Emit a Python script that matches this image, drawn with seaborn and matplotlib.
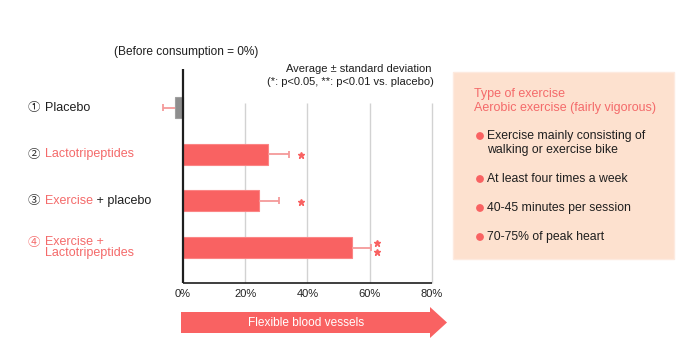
import numpy as np
import pandas as pd
import seaborn as sns
import matplotlib
matplotlib.use("Agg")
import matplotlib.pyplot as plt
from matplotlib import transforms
from matplotlib.patches import Polygon, Rectangle, Circle

# ---- data -------------------------------------------------------------
groups = ["Placebo", "Lactotripeptides", "Exercise + placebo",
          "Exercise + Lactotripeptides"]
change_pct = [-2.6, 27.3, 24.4, 54.3]      # change vs. before consumption (%)
sd_pct = [3.9, 6.7, 6.4, 6.1]              # standard deviation (%)
significance = ["", "*", "*", "**"]
x_ticks = [0, 20, 40, 60, 80]
x_tick_labels = ["0%", "20%", "40%", "60%", "80%"]
box_title = ["Type of exercise", "Aerobic exercise (fairly vigorous)"]
box_items = [["Exercise mainly consisting of", "walking or exercise bike"],
             ["At least four times a week"],
             ["40-45 minutes per session"],
             ["70-75% of peak heart"]]

# ---- style ------------------------------------------------------------
CORAL = "#f96262"
CORAL_TXT = "#f46a6a"
ERR = "#f59a9a"
GRAY = "#8e8e8e"
PEACH = "#fde1cf"
DARK = "#1e1e1e"

sns.set_theme(style="white")
plt.rcParams["font.family"] = ["Liberation Sans", "Noto Sans CJK JP", "DejaVu Sans"]

W, H = 700, 348
fig = plt.figure(figsize=(W / 100, H / 100), dpi=100)


def fx(x):
    return x / W


def fy(y):
    return 1 - y / H


Y_TOP, Y_BOT = -0.825, 3.76

# plot area: x from pixel 150 to 432, y from pixel 69 to 283
ax = fig.add_axes([fx(150), fy(283), fx(432 - 150), (283 - 69) / H])
ax.patch.set_alpha(0)
for s in ax.spines.values():
    s.set_visible(False)

df = pd.DataFrame({"group": groups, "change": change_pct})
palette = {g: (GRAY if v < 0 else CORAL) for g, v in zip(groups, change_pct)}
sns.barplot(data=df, x="change", y="group", hue="group", palette=palette,
            order=groups, orient="h", width=0.45, errorbar=None,
            legend=False, saturation=1, ax=ax, zorder=2)
for bar, v in zip(ax.patches, change_pct):
    bar.set_edgecolor("#a0a0a0" if v < 0 else "#fb8585")
    bar.set_linewidth(0.8)

ax.set_xlim(-10.6, 80)
ax.set_ylim(Y_BOT, Y_TOP)

# gridlines
ax.vlines(x_ticks[1:], -0.1, Y_BOT, color="#d2d2d2", lw=1, zorder=0,
          clip_on=False)

# one-sided error bars, pointing away from zero
pos = np.arange(len(groups))
vals = np.array(change_pct)
ends = vals + np.sign(vals) * np.array(sd_pct)
ax.hlines(pos, vals, ends, color=ERR, lw=1.3, zorder=3)
ax.vlines(ends, pos - 0.075, pos + 0.075, color=ERR, lw=1.3, zorder=3)

# significance marks
for p, mark in zip(pos, significance):
    if mark == "*":
        ax.plot(37.9, p + 0.02, marker="*", ms=4.5, color=CORAL, mec=CORAL,
                ls="none")
    elif mark == "**":
        ax.plot([62.3, 62.3], [p - 0.1, p + 0.1], marker="*", ms=4.5,
                color=CORAL, mec=CORAL, ls="none")

# axis lines
ax.vlines(0, Y_TOP, Y_BOT, color=DARK, lw=1.6, zorder=4, clip_on=False)
ax.hlines(Y_BOT, 0, 80, color=DARK, lw=1.2, zorder=4, clip_on=False)

ax.set_xticks(x_ticks)
ax.set_xticklabels(x_tick_labels, fontsize=8, color="#222222")
ax.tick_params(axis="x", length=0, pad=4)
ax.set_yticks([])
ax.set_xlabel("")
ax.set_ylabel("")

# category labels (mixed colours)
lab = transforms.blended_transform_factory(fig.transFigure, ax.transData)
FS = 9
num_cols = ["#333333", "#333333", "#333333", CORAL_TXT]
nums = ["\u2460", "\u2461", "\u2462", "\u2463"]
for i, (n, c) in enumerate(zip(nums, num_cols)):
    yy = i if i < 3 else i - 0.1
    ax.text(fx(28), yy, n, transform=lab, fontsize=FS, color=c, va="center",
            ha="left", family=["Noto Sans CJK JP", "DejaVu Sans"], clip_on=False)

ax.text(fx(45), 0, "Placebo", transform=lab, fontsize=FS, color=DARK,
        va="center", ha="left")
ax.text(fx(45), 1, "Lactotripeptides", transform=lab, fontsize=FS,
        color=CORAL_TXT, va="center", ha="left")
t_ex = ax.text(fx(45), 2, "Exercise", transform=lab, fontsize=FS,
               color=CORAL_TXT, va="center", ha="left")
ax.annotate(" + placebo", xy=(1, 0.5), xycoords=t_ex, va="center", ha="left",
            fontsize=FS, color=DARK)
ax.text(fx(45), 3, "Exercise +\nLactotripeptides", transform=lab, fontsize=FS,
        color=CORAL_TXT, va="center", ha="left", linespacing=0.95)

# headers
fig.text(fx(186), fy(52), "(Before consumption = 0%)", fontsize=8.6,
         color=DARK, ha="center", va="center")
fig.text(fx(431), fy(69), "Average \u00b1 standard deviation", fontsize=8,
         color=DARK, ha="right", va="center")
fig.text(fx(434), fy(82), "(*: p<0.05, **: p<0.01 vs. placebo)", fontsize=8,
         color=DARK, ha="right", va="center")

# direction arrow
arrow_px = [(181, 312), (430, 312), (430, 307), (447, 322.5),
            (430, 338), (430, 333), (181, 333)]
fig.patches.append(Polygon([(fx(x), fy(y)) for x, y in arrow_px], closed=True,
                           transform=fig.transFigure, facecolor=CORAL,
                           edgecolor="none"))
fig.text(fx(306), fy(323), "Flexible blood vessels", fontsize=8.6,
         color="white", ha="center", va="center")

# exercise description panel
fig.patches.append(Rectangle((fx(453), fy(259)), fx(674 - 453), (259 - 72) / H,
                             transform=fig.transFigure, facecolor=PEACH,
                             edgecolor="#fdeadf", lw=1))
BFS = 9
fig.text(fx(474), fy(94), box_title[0], fontsize=BFS, color=CORAL_TXT,
         ha="left", va="center")
fig.text(fx(474), fy(108), box_title[1], fontsize=BFS, color=CORAL_TXT,
         ha="left", va="center")
item_y = [136, 179, 208, 237]
for yy, lines in zip(item_y, box_items):
    fig.patches.append(Circle((480 / 100, (H - yy) / 100), 0.039,
                              transform=fig.dpi_scale_trans, facecolor=CORAL,
                              edgecolor="none"))
    for k, line in enumerate(lines):
        fig.text(fx(487), fy(yy + 14 * k), line, fontsize=8.8, color=DARK,
                 ha="left", va="center")

fig.savefig("out.png", dpi=100)
